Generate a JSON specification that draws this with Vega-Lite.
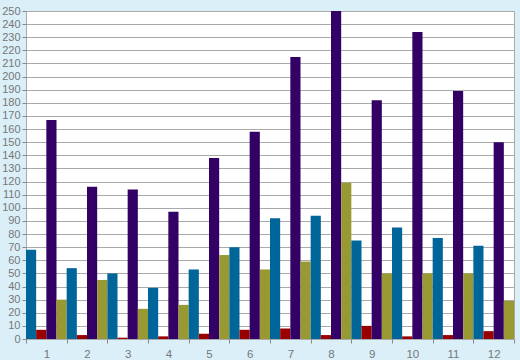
{
  "$schema": "https://vega.github.io/schema/vega-lite/v6.json",
  "width": 520,
  "height": 360,
  "autosize": {"type": "fit", "contains": "padding"},
  "padding": {"left": 0, "top": 5, "right": 5, "bottom": 0},
  "background": "#daeff7",
  "config": {
    "view": {"fill": "white", "stroke": "#aaaaaa", "strokeWidth": 1},
    "axis": {"labelFont": "Liberation Sans", "labelFontSize": 11, "labelColor": "#777777", "gridColor": "#aaaaaa", "gridOpacity": 1, "gridWidth": 1, "tickColor": "#888888", "domain": false}
  },
  "data": {"values": [
    {"m": "1", "s": "a", "v": 68}, {"m": "1", "s": "b", "v": 7}, {"m": "1", "s": "c", "v": 167}, {"m": "1", "s": "d", "v": 30},
    {"m": "2", "s": "a", "v": 54}, {"m": "2", "s": "b", "v": 3}, {"m": "2", "s": "c", "v": 116}, {"m": "2", "s": "d", "v": 45},
    {"m": "3", "s": "a", "v": 50}, {"m": "3", "s": "b", "v": 1}, {"m": "3", "s": "c", "v": 114}, {"m": "3", "s": "d", "v": 23},
    {"m": "4", "s": "a", "v": 39}, {"m": "4", "s": "b", "v": 2}, {"m": "4", "s": "c", "v": 97}, {"m": "4", "s": "d", "v": 26},
    {"m": "5", "s": "a", "v": 53}, {"m": "5", "s": "b", "v": 4}, {"m": "5", "s": "c", "v": 138}, {"m": "5", "s": "d", "v": 64},
    {"m": "6", "s": "a", "v": 70}, {"m": "6", "s": "b", "v": 7}, {"m": "6", "s": "c", "v": 158}, {"m": "6", "s": "d", "v": 53},
    {"m": "7", "s": "a", "v": 92}, {"m": "7", "s": "b", "v": 8}, {"m": "7", "s": "c", "v": 215}, {"m": "7", "s": "d", "v": 59},
    {"m": "8", "s": "a", "v": 94}, {"m": "8", "s": "b", "v": 3}, {"m": "8", "s": "c", "v": 250}, {"m": "8", "s": "d", "v": 119},
    {"m": "9", "s": "a", "v": 75}, {"m": "9", "s": "b", "v": 10}, {"m": "9", "s": "c", "v": 182}, {"m": "9", "s": "d", "v": 50},
    {"m": "10", "s": "a", "v": 85}, {"m": "10", "s": "b", "v": 2}, {"m": "10", "s": "c", "v": 234}, {"m": "10", "s": "d", "v": 50},
    {"m": "11", "s": "a", "v": 77}, {"m": "11", "s": "b", "v": 3}, {"m": "11", "s": "c", "v": 189}, {"m": "11", "s": "d", "v": 50},
    {"m": "12", "s": "a", "v": 71}, {"m": "12", "s": "b", "v": 6}, {"m": "12", "s": "c", "v": 150}, {"m": "12", "s": "d", "v": 29}
  ]},
  "mark": {"type": "bar"},
  "encoding": {
    "x": {
      "field": "m", "type": "ordinal", "sort": null,
      "scale": {"paddingInner": 0, "paddingOuter": 0},
      "axis": {"title": null, "labelAngle": 0, "tickBand": "extent", "tickSize": 4, "labelPadding": 5, "minExtent": 20, "maxExtent": 20, "labelFontSize": 11.5}
    },
    "xOffset": {"field": "s", "type": "nominal", "scale": {"paddingInner": 0, "paddingOuter": 0}},
    "y": {
      "field": "v", "type": "quantitative",
      "scale": {"domain": [0, 250], "nice": false},
      "axis": {"title": null, "values": [0,10,20,30,40,50,60,70,80,90,100,110,120,130,140,150,160,170,180,190,200,210,220,230,240,250], "tickSize": 4, "labelPadding": 2, "minExtent": 26, "maxExtent": 26}
    },
    "color": {
      "field": "s", "type": "nominal", "legend": null,
      "scale": {"domain": ["a", "b", "c", "d"], "range": ["#006699", "#990000", "#330066", "#999933"]}
    }
  }
}
